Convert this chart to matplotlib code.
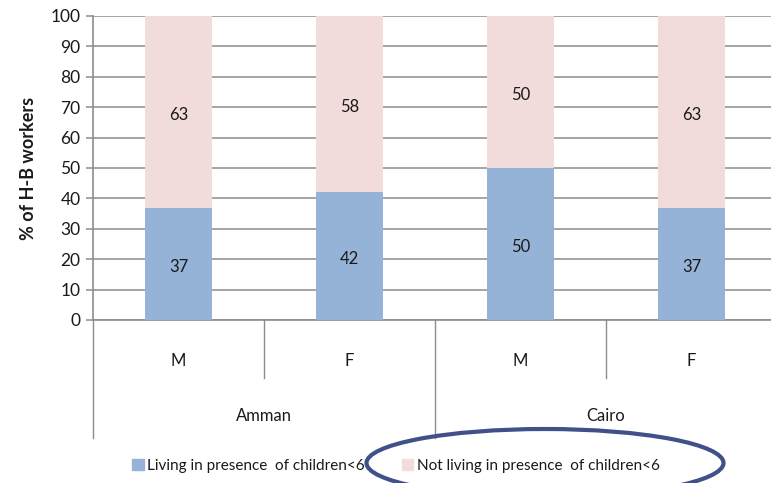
import numpy as np
import matplotlib.pyplot as plt
from matplotlib.patches import Ellipse, Patch

plt.rcParams['font.family'] = ['Lato', 'DejaVu Sans']

sexes = ['M', 'F', 'M', 'F']
cities = ['Amman', 'Cairo']
living = [37, 42, 50, 37]
not_living = [63, 58, 50, 63]
series_names = ['Living in presence  of children<6', 'Not living in presence  of children<6']

blue = '#95B3D7'
pink = '#F2DCDB'
grid_col = '#8C8C8C'
txt_col = '#1A1A1A'

fig = plt.figure(figsize=(7.71, 4.83), dpi=100)
W, H = 771, 483
# plot area in pixels: x 93..777, y 16..320
ax = fig.add_axes([93 / W, 1 - 320 / H, 684 / W, 304 / H])

x = np.arange(len(sexes))
bw = 0.39
b1 = ax.bar(x, living, width=bw, color=blue, zorder=3)
b2 = ax.bar(x, not_living, width=bw, bottom=living, color=pink, zorder=3)

for bars, vals, base in [(b1, living, [0] * 4), (b2, not_living, living)]:
    for bar, v, b in zip(bars, vals, base):
        ax.annotate(f'{v}', (bar.get_x() + bar.get_width() / 2, b + v / 2),
                    xytext=(0, -2), textcoords='offset points',
                    ha='center', va='center', fontsize=12, color=txt_col, zorder=4)

ax.set_xlim(-0.5, len(sexes) - 0.5)
ax.set_ylim(0, 100)
ax.set_yticks(range(0, 101, 10))
ax.yaxis.grid(True, color=grid_col, lw=1.1, zorder=0)
ax.tick_params(axis='y', labelsize=12.5, colors=grid_col, labelcolor=txt_col,
               length=5, width=1.1, pad=4)
ax.set_xticks([])
for side in ['top', 'right']:
    ax.spines[side].set_visible(False)
for side in ['left', 'bottom']:
    ax.spines[side].set_color(grid_col)
    ax.spines[side].set_linewidth(1.2)

ax.set_ylabel('% of H-B workers', fontsize=13, fontweight='bold', color=txt_col, labelpad=10)

# two-level category axis
tr = ax.get_xaxis_transform()
for i, s in enumerate(sexes):
    ax.text(i, -0.135, s, transform=tr, ha='center', va='center', fontsize=12, color=txt_col)
for k, c in enumerate(cities):
    ax.text(2 * k + 0.5, -0.315, c, transform=tr, ha='center', va='center', fontsize=12, color=txt_col)
for xs in [0.5, 2.5]:
    ax.plot([xs, xs], [0, -0.19], transform=tr, color=grid_col, lw=1, clip_on=False)
for xs in [-0.5, 1.5, 3.5]:
    ax.plot([xs, xs], [0, -0.388], transform=tr, color=grid_col, lw=1, clip_on=False)

handles = [Patch(color=blue), Patch(color=pink)]
fig.legend(handles, series_names, ncol=2, frameon=False, fontsize=11,
           loc='center', bbox_to_anchor=(396 / W, 1 - 466 / H),
           handlelength=0.75, handleheight=0.75, handletextpad=0.25,
           columnspacing=2.4, labelcolor=txt_col)

fig.add_artist(Ellipse((545 / W, 1 - 463 / H), 357 / W, 68 / H, transform=fig.transFigure,
                       fill=False, edgecolor='#3F5188', lw=3))

fig.savefig('out.png', dpi=100)
